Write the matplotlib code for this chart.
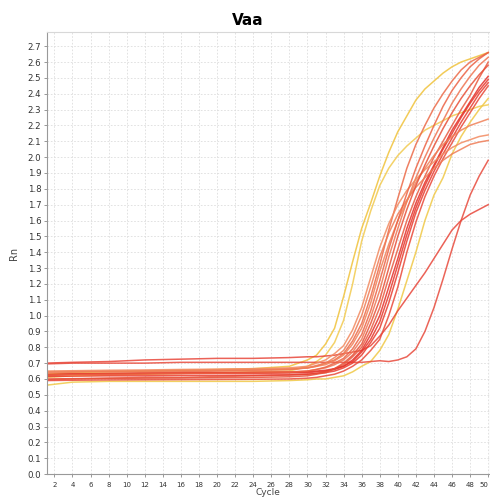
#amplification plot for Vaa
#Rn against cycle for every well
import matplotlib
matplotlib.use("Agg")
import matplotlib.pyplot as plt
from matplotlib.ticker import MultipleLocator

cycles = [1, 4, 8, 12, 16, 20, 24, 28, 30, 31, 32, 33, 34, 35, 36, 37, 38, 39,
          40, 41, 42, 43, 44, 45, 46, 47, 48, 49, 50]

#yellow wells
y1 = [0.63, 0.64, 0.645, 0.65, 0.655, 0.66, 0.665, 0.68, 0.72, 0.75, 0.82, 0.92, 1.12, 1.34,
      1.55, 1.71, 1.88, 2.03, 2.16, 2.26, 2.36, 2.43, 2.48, 2.53, 2.57, 2.60, 2.62, 2.64, 2.66]
y2 = [0.61, 0.62, 0.625, 0.63, 0.635, 0.64, 0.645, 0.65, 0.68, 0.71, 0.75, 0.83, 0.97, 1.20,
      1.47, 1.66, 1.82, 1.93, 2.01, 2.07, 2.12, 2.17, 2.20, 2.23, 2.26, 2.28, 2.30, 2.32, 2.33]
y3 = [0.56, 0.58, 0.585, 0.585, 0.585, 0.585, 0.585, 0.59, 0.595, 0.60, 0.60, 0.61, 0.62, 0.645,
      0.68, 0.71, 0.78, 0.88, 1.04, 1.22, 1.40, 1.60, 1.76, 1.87, 2.02, 2.13, 2.22, 2.30, 2.37]

#red / orange wells
d = [0.70, 0.705, 0.71, 0.72, 0.725, 0.73, 0.73, 0.735, 0.74, 0.74, 0.745, 0.75, 0.76, 0.77,
     0.78, 0.81, 0.87, 0.94, 1.03, 1.11, 1.19, 1.27, 1.36, 1.45, 1.54, 1.60, 1.64, 1.67, 1.70]
e = [0.695, 0.70, 0.70, 0.70, 0.705, 0.705, 0.705, 0.705, 0.705, 0.705, 0.705, 0.705, 0.705, 0.705,
     0.705, 0.71, 0.715, 0.71, 0.72, 0.74, 0.79, 0.90, 1.05, 1.23, 1.42, 1.60, 1.76, 1.88, 1.98]
r1 = [0.62, 0.63, 0.635, 0.64, 0.645, 0.65, 0.655, 0.66, 0.67, 0.68, 0.70, 0.72, 0.76, 0.84,
      0.95, 1.12, 1.32, 1.54, 1.74, 1.93, 2.08, 2.20, 2.31, 2.40, 2.48, 2.55, 2.60, 2.63, 2.66]
r2 = [0.625, 0.63, 0.635, 0.635, 0.64, 0.64, 0.645, 0.645, 0.65, 0.66, 0.67, 0.69, 0.72, 0.77,
      0.85, 0.99, 1.16, 1.37, 1.55, 1.72, 1.87, 2.00, 2.12, 2.23, 2.34, 2.43, 2.51, 2.58, 2.63]
r3 = [0.595, 0.60, 0.605, 0.61, 0.61, 0.615, 0.62, 0.625, 0.63, 0.635, 0.645, 0.665, 0.69, 0.74,
      0.80, 0.91, 1.05, 1.24, 1.42, 1.60, 1.75, 1.88, 2.00, 2.10, 2.20, 2.30, 2.39, 2.50, 2.60]
r4 = [0.625, 0.63, 0.632, 0.634, 0.636, 0.638, 0.64, 0.642, 0.645, 0.65, 0.655, 0.665, 0.68, 0.72,
      0.78, 0.88, 1.00, 1.18, 1.36, 1.55, 1.71, 1.84, 1.95, 2.06, 2.17, 2.26, 2.35, 2.44, 2.51]
r5 = [0.63, 0.632, 0.634, 0.635, 0.635, 0.636, 0.636, 0.638, 0.64, 0.645, 0.65, 0.66, 0.68, 0.71,
      0.77, 0.85, 0.96, 1.13, 1.32, 1.51, 1.68, 1.82, 1.94, 2.05, 2.15, 2.25, 2.34, 2.42, 2.49]
r6 = [0.615, 0.618, 0.62, 0.62, 0.622, 0.623, 0.624, 0.626, 0.63, 0.635, 0.64, 0.65, 0.67, 0.70,
      0.75, 0.83, 0.92, 1.08, 1.27, 1.47, 1.65, 1.79, 1.91, 2.02, 2.12, 2.22, 2.31, 2.40, 2.47]
r7 = [0.59, 0.592, 0.594, 0.595, 0.596, 0.597, 0.598, 0.60, 0.605, 0.61, 0.62, 0.63, 0.65, 0.68,
      0.72, 0.78, 0.85, 1.00, 1.18, 1.40, 1.59, 1.75, 1.88, 1.99, 2.09, 2.19, 2.28, 2.37, 2.45]
r8 = [0.645, 0.648, 0.65, 0.652, 0.655, 0.658, 0.66, 0.665, 0.67, 0.68, 0.69, 0.715, 0.75, 0.82,
      0.92, 1.08, 1.28, 1.45, 1.60, 1.72, 1.84, 1.93, 2.01, 2.08, 2.13, 2.17, 2.20, 2.22, 2.24]
r9 = [0.65, 0.652, 0.655, 0.657, 0.66, 0.662, 0.665, 0.67, 0.68, 0.70, 0.72, 0.76, 0.81, 0.91,
      1.05, 1.24, 1.43, 1.58, 1.70, 1.79, 1.86, 1.92, 1.97, 2.02, 2.06, 2.09, 2.11, 2.13, 2.14]
r10 = [0.64, 0.643, 0.646, 0.648, 0.65, 0.652, 0.655, 0.66, 0.67, 0.685, 0.70, 0.735, 0.78, 0.87,
       1.00, 1.18, 1.37, 1.52, 1.64, 1.73, 1.81, 1.87, 1.93, 1.98, 2.02, 2.05, 2.08, 2.095, 2.105]
r11 = [0.625, 0.628, 0.63, 0.632, 0.634, 0.636, 0.638, 0.642, 0.65, 0.66, 0.675, 0.70, 0.73, 0.79,
       0.88, 1.03, 1.22, 1.42, 1.60, 1.77, 1.93, 2.07, 2.20, 2.32, 2.42, 2.50, 2.57, 2.62, 2.66]
r12 = [0.60, 0.602, 0.604, 0.605, 0.606, 0.608, 0.61, 0.614, 0.62, 0.63, 0.64, 0.665, 0.70, 0.75,
       0.82, 0.95, 1.10, 1.30, 1.50, 1.67, 1.82, 1.95, 2.07, 2.18, 2.28, 2.37, 2.45, 2.52, 2.58]

wells = [y1, y2, y3, d, e, r1, r2, r3, r4, r5, r6, r7, r8, r9, r10, r11, r12]
colours = ['#f0c23a', '#f2ca4e', '#f0c845', '#e8463a', '#e84a3c', '#ec6a48', '#ee7452',
           '#e85a40', '#e4302a', '#e6382c', '#e83c30', '#e94838', '#f08058', '#f28a60',
           '#ef7c56', '#ec6244', '#e75038']

fig = plt.figure(figsize=(4.9, 4.99), dpi=100)
ax = fig.add_axes([0.0953, 0.050, 0.9047, 0.886])

for vals, col in zip(wells, colours):
    ax.plot(cycles, vals, color=col, lw=1.1, alpha=0.85)

ax.set_xlim(1.15, 50.2)
ax.set_ylim(0, 2.79)
ax.xaxis.set_major_locator(MultipleLocator(2))
ax.yaxis.set_major_locator(MultipleLocator(0.1))
ax.yaxis.set_major_formatter(matplotlib.ticker.FormatStrFormatter('%.1f'))
ax.grid(True, color='#dddddd', ls=(0, (2, 2)), lw=0.6)
ax.set_axisbelow(True)

for side in ['top', 'right']:
    ax.spines[side].set_color('#d8d8d8')
for side in ['left', 'bottom']:
    ax.spines[side].set_color('#999999')
ax.tick_params(axis='both', length=2, width=0.6, color='#888888', pad=2)
ax.tick_params(axis='y', labelsize=6.2, labelcolor='#333333')
ax.tick_params(axis='x', labelsize=5, labelcolor='#333333', pad=4)

ax.set_ylabel('Rn', fontsize=7, color='#444444', labelpad=6)
ax.set_xlabel('Cycle', fontsize=6.5, color='#444444', labelpad=0)
fig.text(0.506, 0.958, 'Vaa', ha='center', va='center', fontsize=11, fontweight='bold')

# last tick label sits on the right edge, keep it inside the figure
fig.canvas.draw()
for lab in ax.get_xticklabels():
    if lab.get_text() == '50':
        lab.set_horizontalalignment('right')

plt.savefig('out.png', dpi=100)
